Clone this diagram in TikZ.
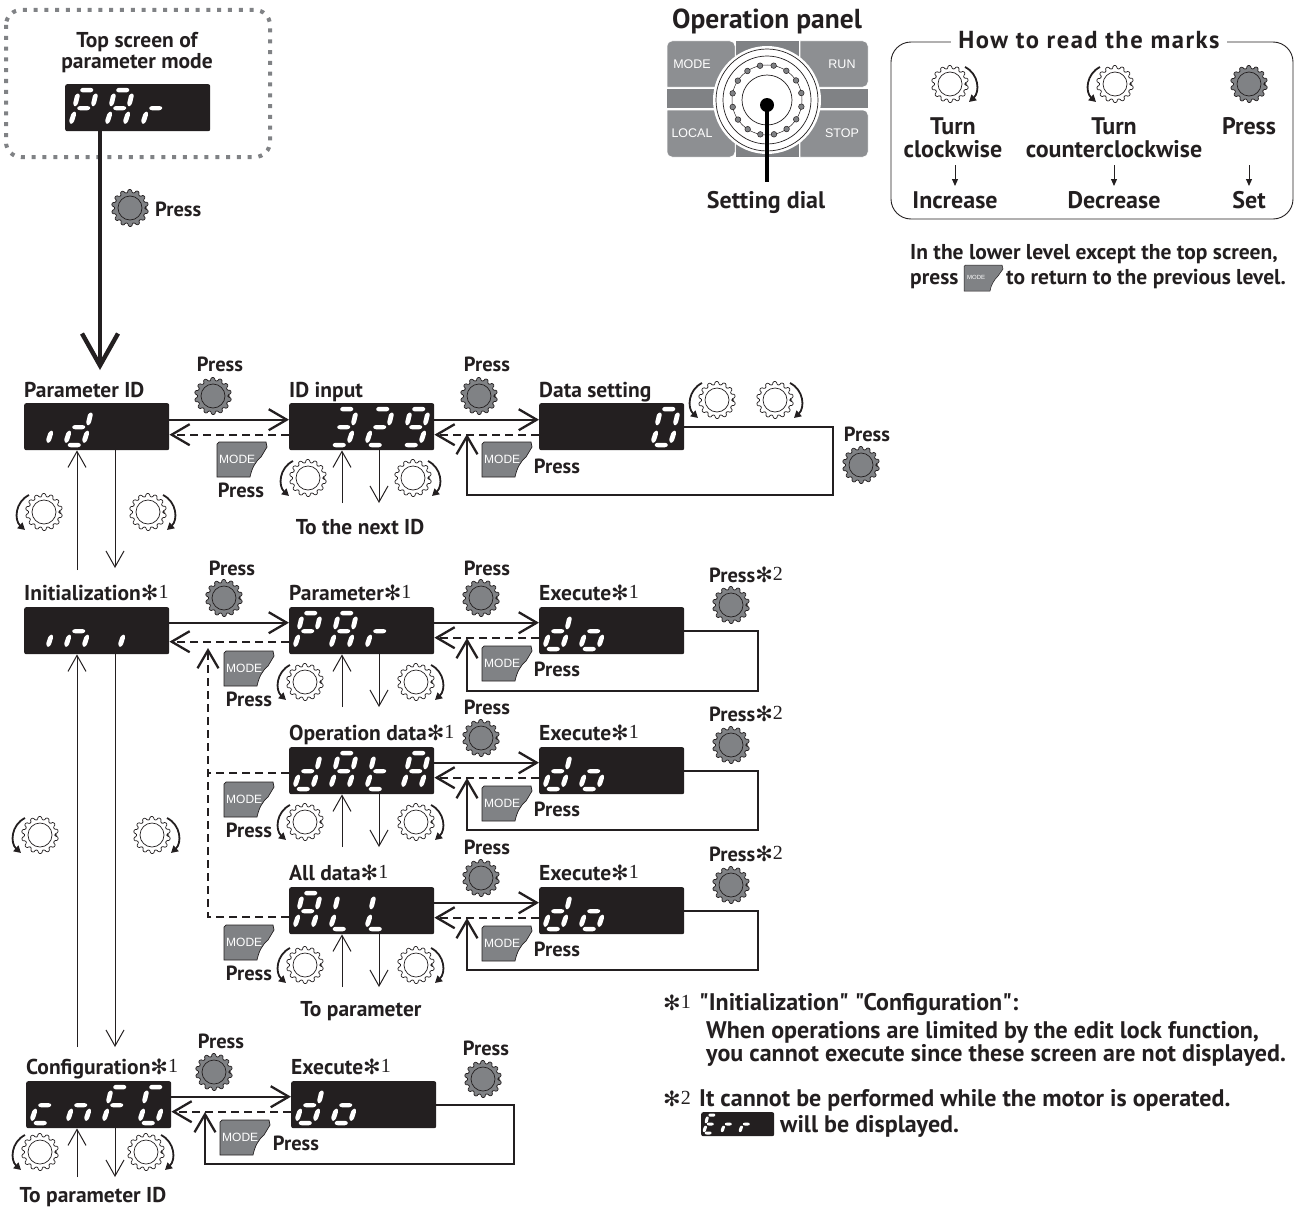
\documentclass[tikz,border=0pt]{standalone}
\usepackage{fontspec}
\setmainfont{PT Sans}
\newfontfamily\rawfont{PT Sans}
\newfontfamily\symfont{DejaVu Sans}
\newfontfamily\numfont{Liberation Serif}
\newfontfamily\panelfont{Liberation Sans}
\usetikzlibrary{arrows.meta}
\definecolor{ink}{HTML}{231F20}
\definecolor{btn}{HTML}{808285}
\definecolor{btnl}{HTML}{8D8F92}
\definecolor{dots}{HTML}{808285}
\tikzset{
  dispbox/.style={fill=ink,draw=none,rounded corners=2pt,minimum width=145pt,minimum height=47pt,inner sep=0,anchor=north west},
  seg/.style={fill=white,draw=white,line width=1.5pt,line join=round,rounded corners=.7pt},
  mainln/.style={line width=2.3pt,draw=ink},
  mainar/.style={mainln,-{Straight Barb[length=18pt,width=21pt,line width=2.3pt]}},
  dashar/.style={mainar,dash pattern=on 8pt off 5pt},
  dashln/.style={mainln,dash pattern=on 8pt off 5pt},
  thinar/.style={line width=1pt,draw=ink,-{Straight Barb[length=16pt,width=18pt,line width=1pt]}},
  bigar/.style={line width=4.4pt,draw=ink,-{Straight Barb[length=32pt,width=36pt,line width=4.4pt]}},
  smallar/.style={line width=1pt,draw=ink,-{Triangle[length=7pt,width=6pt]}},
  turnar/.style={line width=1.8pt,draw=ink,-{Triangle[length=7pt,width=7.5pt]}},
  gearw/.style={fill=white,draw=ink,line width=.7pt},
  gearp/.style={fill=btn,draw=ink,line width=.7pt},
  txt/.style={text=ink,inner sep=0,font=\fontsize{21.5}{23}\selectfont\bfseries},
  big/.style={font=\fontsize{24}{26}\selectfont\bfseries},
}
\newcounter{tn}
\newcommand\TL[4][]{\stepcounter{tn}\node[txt,anchor=base west,#1] (t\thetn) at (#2,#3+8) {#4};}
\newcommand\TC[4][]{\stepcounter{tn}\node[txt,anchor=base,#1] (t\thetn) at (#2,#3+8) {#4};}
\newcommand\PR{{\fontsize{20.5}{22}\selectfont Press}}
\newcommand\st[1]{{\symfont\fontsize{21}{22}\selectfont\mdseries ✻}{\numfont\mdseries\fontsize{20}{20}\selectfont\raisebox{2pt}{#1}}}
% seven segments, cell 0, relative to the north-west corner of the display
\def\sega{\fill[seg] (15.5,6.2) -- (17.5,4.5) -- (26,4.5) -- (28,6) -- (26,7.7) -- (17.5,7.7) -- cycle;}
\def\segb{\fill[seg] (31.3,10) -- (32,12) -- (30.2,19.5) -- (27.8,22) -- (27,19) -- (28.8,11.5) -- cycle;}
\def\segc{\fill[seg] (27.8,28) -- (28.4,30.5) -- (26.2,37.5) -- (23.8,39.5) -- (23,36.5) -- (25.2,30) -- cycle;}
\def\segd{\fill[seg] (8,42) -- (10,40.5) -- (18.5,40.5) -- (20.5,42) -- (18.5,43.5) -- (10,43.5) -- cycle;}
\def\sege{\fill[seg] (9.8,28) -- (10.4,30.5) -- (8.2,37.5) -- (5.8,39.5) -- (5,36.5) -- (7.2,30) -- cycle;}
\def\segf{\fill[seg] (13.3,10) -- (14,12) -- (12.2,19.5) -- (9.8,22) -- (9,19) -- (10.8,11.5) -- cycle;}
\def\segg{\fill[seg] (12.5,24.3) -- (14.5,22.8) -- (22.5,22.8) -- (25,23.8) -- (23,25.5) -- (14.5,25.5) -- cycle;}
\newcommand\dg[2]{\begin{scope}[xshift=36pt*#1]\foreach \s in {#2}{\csname seg\s\endcsname}\end{scope}}
\newcommand\disp[4]{\node[dispbox] (#1) at (#2,#3) {};\begin{scope}[shift={(#1.north west)}]#4\end{scope}}
\newcommand\gear[3]{\draw[#1,rounded corners=.9pt,shift={(#2,#3)}] (0:15.5) \foreach \a in {0,...,13}{ -- (\a*25.714+4:15.5) -- (\a*25.714+7:18.5) -- (\a*25.714+17:18.5) -- (\a*25.714+21:15.5) -- (\a*25.714+25.714:15.5)} -- cycle;
  \draw[#1,shift={(#2,#3)}] (0,0) circle (12);}
\newcommand\press[2]{\gear{gearp}{#1}{#2}}
\newcommand\cw[2]{\gear{gearw}{#1}{#2}\draw[turnar,shift={(#1,#2)}] (15,-17) .. controls (29,-10) and (30,8) .. (19,18);}
\newcommand\ccw[2]{\gear{gearw}{#1}{#2}\draw[turnar,shift={(#1,#2)}] (-15,-17) .. controls (-29,-10) and (-30,8) .. (-19,18);}
\newcommand\modebtn[3]{\draw[fill=btn,draw=ink,line width=.7pt,shift={(#2,#3)}] (0,2) -- (2,0) -- (49,0) -- (50,5) -- (44,15) .. controls (38,20) and (35,26) .. (33,35) -- (0,35) -- cycle;
  \node[anchor=west,inner sep=0,text=white,font=\panelfont\fontsize{12}{12}\selectfont] (#1) at (#2+2,#3+17) {MODE};}
\newcommand\modemini[3]{\draw[fill=btn,draw=ink,line width=.5pt,shift={(#2,#3)}] (0,1.5) -- (1.5,0) -- (38,0) -- (39,4) -- (34,11) .. controls (30,15) and (27,20) .. (26,26) -- (0,26) -- cycle;
  \node[anchor=west,inner sep=0,text=white,font=\panelfont\fontsize{6}{6}\selectfont] (#1) at (#2+3,#3+12) {MODE};}
\begin{document}
\begin{tikzpicture}[x=1pt,y=-1pt]
\useasboundingbox (0,0) rectangle (1298,1207);
% top screen
\draw[dots,line width=4pt,dash pattern=on 4pt off 6.8pt,rounded corners=15pt] (6,10) rectangle (270,157);
\TC{137}{40}{Top screen of}
\TC{137}{61}{parameter mode}
\disp{top}{65}{84}{\dg{0}{a,b,e,f,g}\dg{1}{a,b,c,e,f,g}\dg{2}{e,g}}
\coordinate (tipA) at (100,370);
\draw[bigar] (tipA |- top.south) -- (tipA);
\press{130}{208}
\TL{155}{208}{\PR}
% operation panel
\TC[font=\fontsize{27.5}{29}\selectfont\bfseries]{767}{21}{Operation panel}
\fill[btn] (736,41) rectangle (799,157);
\fill[btn] (667,89) rectangle (868,108);
\fill[btnl,draw=white,line width=.5pt] (667,87) {[rounded corners=5pt] -- (667,41) -- (735,41)} -- (735,87) -- cycle;
\fill[btnl,draw=white,line width=.5pt] (800,87) -- (800,41) {[rounded corners=5pt] -- (868,41) -- (868,87)} -- cycle;
\fill[btnl,draw=white,line width=.5pt] (667,110) {[rounded corners=5pt] -- (667,157) -- (735,157)} -- (735,110) -- cycle;
\fill[btnl,draw=white,line width=.5pt] (800,110) -- (800,157) {[rounded corners=5pt] -- (868,157) -- (868,110)} -- cycle;
\foreach \nm/\x/\y/\l in {bm/692/64/MODE,br/842/64/RUN,bl/692/133/LOCAL,bs/842/133/STOP}{
  \node[inner sep=0,text=white,font=\panelfont\fontsize{12.5}{13}\selectfont] (\nm) at (\x,\y) {\l};}
\fill[white] (767,100) circle (54);
\draw[draw=ink,line width=.7pt] (767,100) circle (51);
\draw[draw=ink,line width=.7pt] (767,100) circle (44);
\draw[draw=ink,line width=.5pt] (767,100) circle (35);
\draw[draw=ink,line width=.7pt] (767,100) circle (25);
\foreach \a in {0,22.5,...,337.5}{\draw[fill=dots,draw=ink,line width=.5pt] (767,100) ++(\a+11:35) circle (2.8);}
\fill[black] (767,105) circle (7);
\draw[black,line width=4pt] (767,105) -- (767,182);
\TC[big]{766}{200}{Setting dial}
% how to read
\draw[draw=ink,line width=.9pt,rounded corners=20pt] (891,42) rectangle (1293,219);
\node[txt,fill=white,inner xsep=7pt,inner ysep=2pt,font=\fontsize{24.6}{26}\selectfont\bfseries\addfontfeatures{LetterSpace=6}] (howto) at (1089,40) {How to read the marks};
\cw{950}{84}
\ccw{1115}{84}
\press{1249}{84}
\TC[big]{953}{126}{Turn}\TC[big]{953}{149}{clockwise}
\TC[big]{1114}{126}{Turn}\TC[big]{1114}{149}{counterclockwise}
\TC[big]{1249}{126}{Press}
\TC[big]{955}{200}{Increase}\TC[big]{1114}{200}{Decrease}\TC[big]{1249}{200}{Set}
\foreach \n/\x in {a/955,b/1114,c/1249}{\coordinate (up\n) at (\x,165); \coordinate (dn\n) at (\x,186); \draw[smallar] (up\n) -- (dn\n);}
\TL{910}{251}{In the lower level except the top screen,}
\TL{910}{276}{press}
\modemini{mm}{964}{265}
\TL{1006}{276}{to return to the previous level.}
% row 1
\TL{24}{389}{Parameter ID}
\TL{289}{389}{ID input}
\TL{539}{389}{Data setting}
\disp{pid}{24}{403}{\dg{0}{c}\dg{1}{b,c,d,e,g}}
\disp{idi}{289}{403}{\dg{1}{a,b,c,d,g}\dg{2}{a,b,d,e,g}\dg{3}{a,b,c,d,f,g}}
\disp{dat}{539}{403}{\dg{3}{a,b,c,d,e,f}}
\draw[mainar] ([yshift=7pt]pid.east) -- ([yshift=7pt]idi.west);
\draw[dashar] ([yshift=-8pt]idi.west) -- ([yshift=-8pt]pid.east);
\draw[mainar] ([yshift=7pt]idi.east) -- ([yshift=7pt]dat.west);
\draw[dashar] ([yshift=-8pt]dat.west) -- ([yshift=-8pt]idi.east);
\coordinate (la1) at (833,495); \coordinate (lb1) at (467,434);
\draw[mainar] (dat.east) -| (la1) -| (lb1);
\TC{220}{363}{\PR}\press{213}{396}
\TC{487}{363}{\PR}\press{479}{396}
\modebtn{mb1}{217}{442}\TC{241}{489}{\PR}
\modebtn{mb2}{482}{442}\TC{557}{465}{\PR}
\ccw{308}{478}\cw{413}{478}
\coordinate (u1) at (342,503); \coordinate (d1) at (379,503);
\draw[thinar] (u1) -- (u1 |- idi.south);
\draw[thinar] (d1 |- idi.south) -- (d1);
\TC{360}{526}{To the next ID}
\ccw{717}{400}\cw{775}{400}
\TC{867}{433}{\PR}\press{861}{465}
% left column
\coordinate (lu1) at (77,570); \coordinate (ld1) at (115,568);
\draw[thinar] (lu1) -- (lu1 |- pid.south);
\draw[thinar] (ld1 |- pid.south) -- (ld1);
\ccw{44}{512}\cw{148}{512}
% row 2
\TL{24}{592}{Initialization\st{1}}
\TL{289}{592}{Parameter\st{1}}
\TL{539}{592}{Execute\st{1}}
\disp{ini}{24}{607}{\dg{0}{c}\dg{1}{c,e,g}\dg{2}{c}}
\disp{par}{289}{607}{\dg{0}{a,b,e,f,g}\dg{1}{a,b,c,e,f,g}\dg{2}{e,g}}
\disp{exa}{539}{607}{\dg{0}{b,c,d,e,g}\dg{1}{c,d,e,g}}
\draw[mainar] ([yshift=8pt]ini.east) -- ([yshift=8pt]par.west);
\draw[dashar] ([yshift=-11pt]par.west) -- ([yshift=-11pt]ini.east);
\draw[mainar] ([yshift=8pt]par.east) -- ([yshift=8pt]exa.west);
\draw[dashar] ([yshift=-7pt]exa.west) -- ([yshift=-7pt]par.east);
\coordinate (la2) at (758,691); \coordinate (lb2) at (467,638);
\draw[mainar] (exa.east) -| (la2) -| (lb2);
\TC{232}{567}{\PR}\press{224}{598}
\TC{487}{567}{\PR}\press{481}{598}
\TL{709}{574}{\PR\st{2}}\press{731}{605}
\modebtn{mb3}{224}{651}\TC{249}{698}{\PR}
\modebtn{mb4}{482}{646}\TC{557}{668}{\PR}
\ccw{305}{682}\cw{416}{682}
\coordinate (u2) at (342,707); \coordinate (d2) at (379,707);
\draw[thinar] (u2) -- (u2 |- par.south);
\draw[thinar] (d2 |- par.south) -- (d2);
% row 3
\TL{289}{732}{Operation data\st{1}}
\TL{539}{732}{Execute\st{1}}
\disp{opd}{289}{747}{\dg{0}{b,c,d,e,g}\dg{1}{a,b,c,e,f,g}\dg{2}{d,e,f,g}\dg{3}{a,b,c,e,f,g}}
\disp{exb}{539}{747}{\dg{0}{b,c,d,e,g}\dg{1}{c,d,e,g}}
\draw[mainar] ([yshift=8pt]opd.east) -- ([yshift=8pt]exb.west);
\draw[dashar] ([yshift=-7pt]exb.west) -- ([yshift=-7pt]opd.east);
\coordinate (la3) at (758,830); \coordinate (lb3) at (467,778);
\draw[mainar] (exb.east) -| (la3) -| (lb3);
\TC{487}{706}{\PR}\press{481}{738}
\TL{709}{713}{\PR\st{2}}\press{731}{745}
\modebtn{mb5}{224}{782}\TC{249}{829}{\PR}
\modebtn{mb6}{482}{786}\TC{557}{808}{\PR}
\ccw{305}{822}\cw{416}{822}
\coordinate (u3) at (342,847); \coordinate (d3) at (379,847);
\draw[thinar] (u3) -- (u3 |- opd.south);
\draw[thinar] (d3 |- opd.south) -- (d3);
% row 4
\TL{289}{872}{All data\st{1}}
\TL{539}{872}{Execute\st{1}}
\disp{all}{289}{887}{\dg{0}{a,b,c,e,f,g}\dg{1}{d,e,f}\dg{2}{d,e,f}}
\disp{exc}{539}{887}{\dg{0}{b,c,d,e,g}\dg{1}{c,d,e,g}}
\draw[mainar] ([yshift=8pt]all.east) -- ([yshift=8pt]exc.west);
\draw[dashar] ([yshift=-7pt]exc.west) -- ([yshift=-7pt]all.east);
\coordinate (la4) at (758,970); \coordinate (lb4) at (467,918);
\draw[mainar] (exc.east) -| (la4) -| (lb4);
\TC{487}{846}{\PR}\press{481}{878}
\TL{709}{853}{\PR\st{2}}\press{731}{885}
\modebtn{mb7}{224}{925}\TC{249}{972}{\PR}
\modebtn{mb8}{482}{926}\TC{557}{948}{\PR}
\ccw{305}{965}\cw{416}{965}
\coordinate (u4) at (342,987); \coordinate (d4) at (379,987);
\draw[thinar] (u4) -- (u4 |- all.south);
\draw[thinar] (d4 |- all.south) -- (d4);
\TC{361}{1008}{To parameter}
% dashed return
\coordinate (dashtip) at (208,648);
\draw[dashar] ([yshift=-6pt]all.west) -| (dashtip);
\draw[dashln] ([yshift=-2pt]opd.west) -- ([yshift=-2pt]opd.west -| dashtip);
% row 5
\TL{26}{1066}{Configuration\st{1}}
\TL{291}{1066}{Execute\st{1}}
\disp{cnf}{26}{1081}{\dg{0}{d,e,g}\dg{1}{c,e,g}\dg{2}{a,e,f,g}\dg{3}{a,c,d,e,f}}
\disp{exd}{291}{1081}{\dg{0}{b,c,d,e,g}\dg{1}{c,d,e,g}}
\draw[mainar] ([yshift=8pt]cnf.east) -- ([yshift=8pt]exd.west);
\draw[dashar] ([yshift=-7pt]exd.west) -- ([yshift=-7pt]cnf.east);
\coordinate (la5) at (514,1164); \coordinate (lb5) at (205,1112);
\draw[mainar] (exd.east) -| (la5) -| (lb5);
\TC{221}{1040}{\PR}\press{214}{1072}
\TC{486}{1047}{\PR}\press{483}{1079}
\modebtn{mb9}{220}{1120}\TC{296}{1142}{\PR}
\ccw{40}{1152}\cw{146}{1152}
\coordinate (u5) at (77,1177); \coordinate (d5) at (115,1177);
\draw[thinar] (u5) -- (u5 |- cnf.south);
\draw[thinar] (d5 |- cnf.south) -- (d5);
\TC{93}{1194}{To parameter ID}
% long verticals
\coordinate (lu2) at (77,1047); \coordinate (ld2) at (115,1047);
\draw[thinar] (lu2) -- (lu2 |- ini.south);
\draw[thinar] (ld2 |- ini.south) -- (ld2);
\ccw{40}{835}\cw{152}{835}
% notes
\TL{663}{1002}{\st{1}}
\TL[big,font=\fontsize{24}{26}\selectfont\rawfont\bfseries]{699}{1002}{"Initialization" "Configuration":}
\TL[big]{706}{1030}{When operations are limited by the edit lock function,}
\TL[big]{706}{1053}{you cannot execute since these screen are not displayed.}
\TL{663}{1098}{\st{2}}
\TL[big]{699}{1098}{It cannot be performed while the motor is operated.}
\node[dispbox,minimum width=73pt,minimum height=24pt] (err) at (701,1112) {};
\begin{scope}[shift={(err.north west)},scale=.5]
\dg{0}{a,d,e,f,g}\dg{1}{e,g}\dg{2}{e,g}
\end{scope}
\TL[big]{780}{1124}{will be displayed.}
\end{tikzpicture}
\end{document}
